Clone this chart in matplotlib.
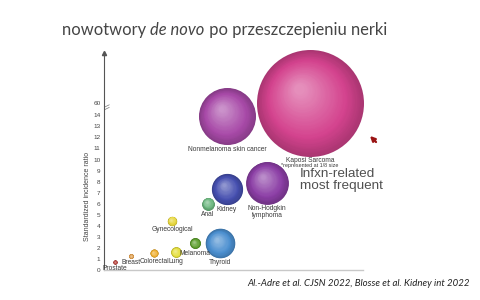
import numpy as np
import matplotlib
matplotlib.use("Agg")
import matplotlib.pyplot as plt
from matplotlib.colors import to_rgb
from matplotlib.transforms import ScaledTranslation

# ---- data ----
categories = ["Prostate", "Breast", "Colorectal", "Lung", "Melanoma", "Thyroid",
              "Gynecological", "Anal", "Kidney", "Non-Hodgkin\nlymphoma",
              "Nonmelanoma skin cancer", "Kaposi Sarcoma"]
x_pos = [11, 27, 50, 72, 91, 116, 68, 104, 123, 163, 123, 206]          # arbitrary horizontal placement
sir = [0.7, 1.25, 1.5, 1.6, 2.4, 2.4, 4.45, 6.0, 7.3, 7.9, 13.9, 60.0]  # standardized incidence ratio
bubble_r = [2.0, 2.4, 4.0, 5.3, 5.4, 14.8, 4.7, 6.3, 15.6, 21.4, 28.5, 53.5]  # relative bubble radius
colors = ["#b8403a", "#e0a050", "#f0b030", "#e6e040", "#5fa030", "#4b8fd0",
          "#e8d840", "#6db880", "#4650b0", "#8c3fa6", "#a84aa8", "#d4438e"]
yticks = list(range(15)) + [60]
ytick_labels = [str(t) for t in yticks]

W, H, DPI = 480, 300, 100
fig = plt.figure(figsize=(W / DPI, H / DPI), dpi=DPI)
fig.patch.set_facecolor("white")

ax_l, ax_r, ax_b, ax_t = 104, 363, 270, 53
ax = fig.add_axes([ax_l / W, 1 - ax_b / H, (ax_r - ax_l) / W, (ax_b - ax_t) / H])

# broken axis: linear up to 14.5, compressed above
k = 0.6 / 45.5
def fwd(v):
    v = np.asarray(v, dtype=float)
    return np.where(v <= 14.5, v, 14.5 + (v - 14.5) * k)
def inv(d):
    d = np.asarray(d, dtype=float)
    return np.where(d <= 14.5, d, 14.5 + (d - 14.5) / k)
ax.set_yscale("function", functions=(fwd, inv))
top_disp = (ax_b - ax_t) / 11.05
ax.set_ylim(0, float(inv(top_disp)))
ax.set_xlim(0, ax_r - ax_l)

def pts(px):
    return px * 72.0 / DPI

def draw_bubble(x, y, r, color, z):
    base = np.array(to_rgb(color))
    dark = base * 0.80
    light = base + (1 - base) * 0.40
    n = 36
    for i in range(n):
        t = i / (n - 1)
        rr = r * (1 - 0.9 * t)
        if t < 0.3:
            c = dark + (base - dark) * (t / 0.3)
        else:
            c = base + (light - base) * ((t - 0.3) / 0.7)
        off = r - rr
        tr = ax.transData + ScaledTranslation(-0.22 * off / DPI, 0.30 * off / DPI, fig.dpi_scale_trans)
        ax.scatter([x], [y], s=(2 * pts(rr)) ** 2, color=[np.clip(c, 0, 1)],
                   linewidths=0, transform=tr, zorder=z, clip_on=False)

for i, (cat, x, v, r, c) in enumerate(zip(categories, x_pos, sir, bubble_r, colors)):
    draw_bubble(x, v, r, c, 3 + (12 - i) * 0.01)
    ax.annotate(cat, (x, v), xytext=(0, -pts(r + 0.8)), textcoords="offset points",
                ha="center", va="top", fontsize=4.8, family="Liberation Sans",
                color="#3a3a3a", linespacing=1.0, zorder=10, annotation_clip=False)
    if cat == "Kaposi Sarcoma":
        ax.annotate("*represented at 1/8 size", (x, v), xytext=(0, -pts(r + 6.8)),
                    textcoords="offset points", ha="center", va="top", fontsize=3.9,
                    family="Liberation Sans", color="#3a3a3a", zorder=10,
                    annotation_clip=False)

# axes styling
for s in ["top", "right"]:
    ax.spines[s].set_visible(False)
ax.spines["left"].set_color("#555555")
ax.spines["left"].set_linewidth(0.8)
ax.spines["bottom"].set_color("#c8c8c8")
ax.spines["bottom"].set_linewidth(1.0)
ax.set_xticks([])
ax.set_yticks(yticks)
ax.set_yticklabels(ytick_labels)
ax.yaxis.set_minor_locator(matplotlib.ticker.NullLocator())
ax.tick_params(axis="y", length=0, pad=2.5, labelsize=4.6, labelcolor="#444444")
for lab in ax.get_yticklabels():
    lab.set_family("Liberation Sans")
ax.set_facecolor("none")
ax.set_ylabel("Standardized incidence ratio", fontsize=5, family="Liberation Sans", color="#444444")
ax.yaxis.set_label_coords(-0.05, 0.34)

# arrow on top of y axis
ax.plot([0], [1], marker="^", ms=3, color="#555555", transform=ax.transAxes, clip_on=False)
# axis break mark
yb = 1 - (107 - ax_t) / (ax_b - ax_t)
for d in (-0.006, 0.006):
    ax.plot([0.003, 0.02], [yb + d - 0.006, yb + d + 0.004], color="#777777", lw=0.5,
            transform=ax.transAxes, clip_on=False)

# title with italic part
renderer = fig.canvas.get_renderer()
tx = 62 / W
ty = 1 - 30 / H
parts = [("nowotwory ", "normal"), ("de novo", "italic"), (" po przeszczepieniu nerki", "normal")]
for txt, style in parts:
    t = fig.text(tx, ty, txt, fontsize=11.9, family="Lato", style=style, color="#454545",
                 va="center", ha="left")
    bb = t.get_window_extent(renderer=renderer)
    tx += bb.width / W

fig.text(300 / W, 1 - 168 / H, "Infxn-related\nmost frequent", fontsize=9.7,
         family="Liberation Sans", color="#505050", va="top", ha="left", linespacing=1.05)

fig.text(470 / W, 1 - 283 / H, "Al.-Adre et al. CJSN 2022, Blosse et al. Kidney int 2022",
         fontsize=6.9, family="Lato", style="italic", color="#222222", ha="right", va="center")

# mouse pointer
fig.add_artist(matplotlib.patches.FancyArrowPatch((378, H - 144), (368, H - 134),
               transform=None, arrowstyle="-|>", mutation_scale=7, lw=1.6, color="#9a1414"))

fig.savefig("out.png", dpi=DPI, facecolor="white")
